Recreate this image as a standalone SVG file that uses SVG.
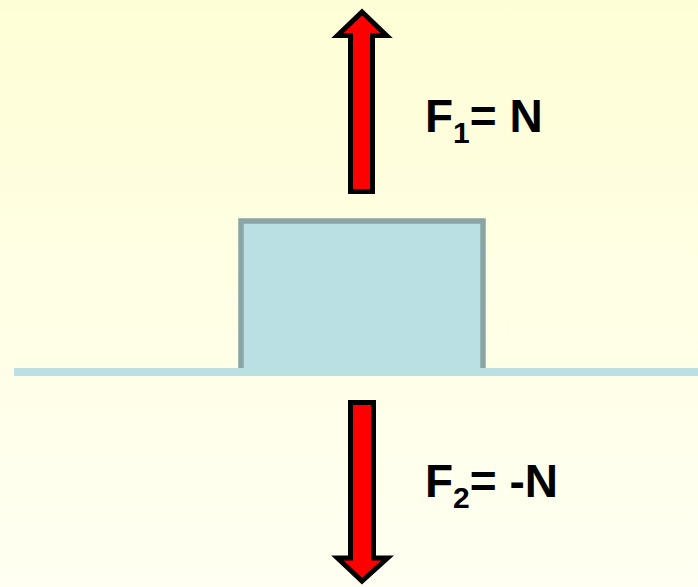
<svg xmlns="http://www.w3.org/2000/svg" width="698" height="587" viewBox="0 0 698 587">
<defs>
<linearGradient id="bg" x1="0" y1="0" x2="0" y2="1">
<stop offset="0" stop-color="#fefed6"/>
<stop offset="1" stop-color="#fffff2"/>
</linearGradient>
<style>
.arrow{fill:#ff0000;stroke:#000;stroke-width:5;stroke-linejoin:miter;stroke-miterlimit:10}
.lbl{font-family:"Liberation Sans",Arial,sans-serif;font-weight:bold;font-size:46px;fill:#000}
.sub{font-size:30px}
</style>
</defs>
<rect width="698" height="587" fill="url(#bg)"/>
<g id="block">
<rect x="241" y="221" width="242" height="148" fill="#bae0e3"/>
<path d="M241,369 V221 H483 V369" fill="none" stroke="#8aa5a5" stroke-width="5.5"/>
</g>
<g id="ground">
<rect x="14" y="368" width="684" height="8" fill="#bae0e3"/>
</g>
<g id="connectors">
<polygon id="arrow-up" class="arrow" points="350.5,191.5 350.5,35.5 337.5,35.5 362,12 386.5,35.5 372.5,35.5 372.5,191.5"/>
<polygon id="arrow-down" class="arrow" points="350.5,402.5 350.5,558 337.5,558 362,581 387.5,558 373.5,558 373.5,402.5"/>
</g>
<g id="label-f1">
<text class="lbl" x="425" y="132">F<tspan class="sub" dy="11">1</tspan><tspan dy="-11">= N</tspan></text>
</g>
<g id="label-f2">
<text class="lbl" x="425" y="497">F<tspan class="sub" dy="11">2</tspan><tspan dy="-11">= -N</tspan></text>
</g>
</svg>
